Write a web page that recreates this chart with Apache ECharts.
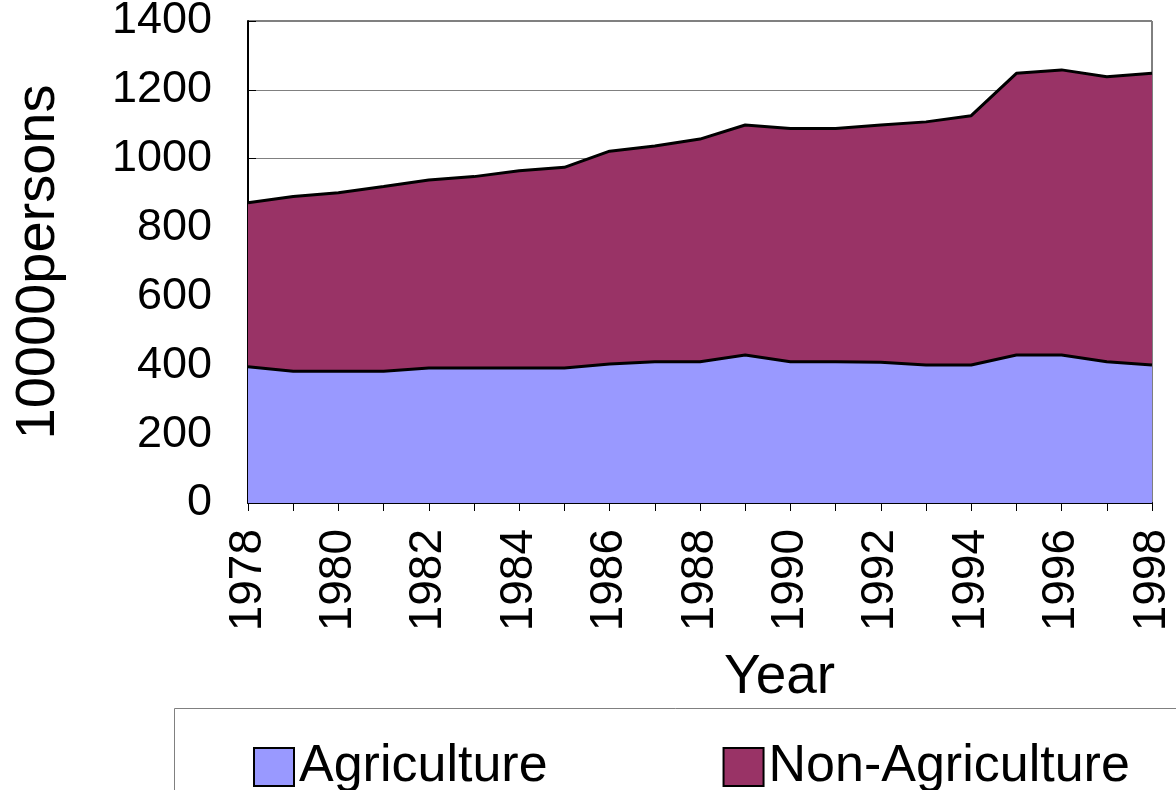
<!DOCTYPE html>
<html>
<head>
<meta charset="utf-8">
<script src="https://cdn.jsdelivr.net/npm/echarts@6/dist/echarts.min.js"></script>
<style>
  html, body { margin: 0; padding: 0; background: #fff; }
  #chart { width: 1176px; height: 790px; }
</style>
</head>
<body>
<div id="chart"></div>
<script>
// years on the x axis
const years = ['1978', '1979', '1980', '1981', '1982', '1983', '1984', '1985', '1986', '1987',
  '1988', '1989', '1990', '1991', '1992', '1993', '1994', '1995', '1996', '1997', '1998'];
// 10000 persons
const agriculture = [396, 383, 383, 383, 392, 392, 392, 392, 404, 410, 410, 430, 410, 410, 409, 401, 401, 430, 430, 410, 401];
const nonAgriculture = [476, 507, 518, 536, 546, 556, 573, 583, 618, 627, 647, 668, 678, 678, 689, 706, 724, 818, 828, 828, 847];
const yTicks = [0, 200, 400, 600, 800, 1000, 1200, 1400];

const font = 'Liberation Sans, Arial, sans-serif';
var myChart = echarts.init(document.getElementById('chart'));

const option = {
  animation: false,
  textStyle: { fontFamily: font },
  grid: {
    left: 248, right: 24, top: 21, bottom: 287,
    outerBoundsMode: 'none',
    show: true, borderColor: '#000', borderWidth: 1
  },
  legend: {
    left: 248, top: 736,
    itemWidth: 40, itemHeight: 38, itemGap: 175,
    icon: 'rect',
    textStyle: { fontSize: 52, color: '#000', fontFamily: font },
    data: [
      { name: 'Agriculture', itemStyle: { borderColor: '#000', borderWidth: 2 } },
      { name: 'Non-Agriculture', itemStyle: { borderColor: '#000', borderWidth: 2 } }
    ]
  },
  xAxis: {
    type: 'category',
    data: years,
    boundaryGap: false,
    axisLine: { lineStyle: { color: '#000', width: 2 } },
    axisTick: { show: true, interval: 0, length: 8, lineStyle: { color: '#000', width: 1 } },
    axisLabel: { interval: 1, rotate: 90, fontSize: 46, color: '#000', margin: 26, fontFamily: font },
    splitLine: { show: false }
  },
  yAxis: {
    type: 'value',
    min: yTicks[0], max: yTicks[yTicks.length - 1], interval: 200,
    name: '10000persons',
    nameLocation: 'middle',
    nameGap: 181,
    nameTextStyle: { fontSize: 56, color: '#000', fontFamily: font },
    axisLine: { show: true, lineStyle: { color: '#000', width: 2 } },
    axisTick: { show: true, inside: true, length: 8, lineStyle: { color: '#000' } },
    axisLabel: {
      fontSize: 45, color: '#000', margin: 36, fontFamily: font,
      formatter: function (v) { return String(v); }
    },
    splitLine: { show: true, lineStyle: { color: '#808080', width: 1 } }
  },
  graphic: [
    {
      type: 'text', left: 724, top: 650,
      style: { text: 'Year', fontSize: 55, fill: '#000', fontFamily: font }
    },
    {
      type: 'rect', shape: { x: 174.5, y: 708.5, width: 1100, height: 120 },
      style: { fill: 'none', stroke: '#808080', lineWidth: 1 }, z: -1
    }
  ],
  series: [
    {
      name: 'Agriculture',
      type: 'line',
      stack: 'total',
      data: agriculture,
      symbol: 'none',
      color: '#9999FF',
      lineStyle: { color: '#000', width: 3 },
      areaStyle: { color: '#9999FF', opacity: 1 }
    },
    {
      name: 'Non-Agriculture',
      type: 'line',
      stack: 'total',
      data: nonAgriculture,
      symbol: 'none',
      color: '#993366',
      lineStyle: { color: '#000', width: 3 },
      areaStyle: { color: '#993366', opacity: 1 }
    }
  ]
};

myChart.setOption(option);
</script>
</body>
</html>
